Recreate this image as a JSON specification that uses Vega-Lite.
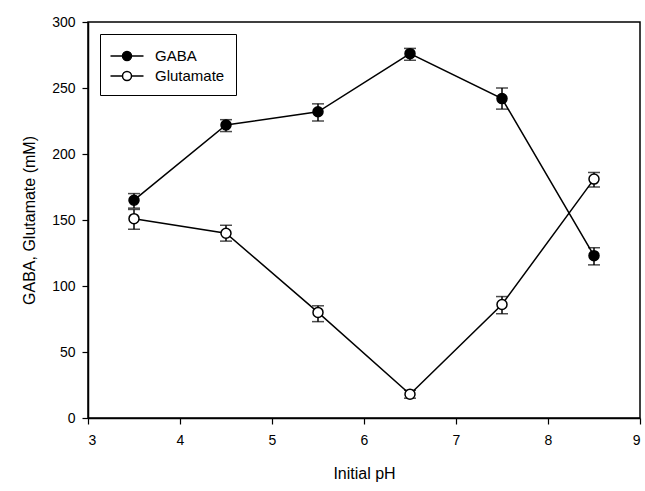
{
  "$schema": "https://vega.github.io/schema/vega-lite/v6.json",
  "autosize": {"type": "none"},
  "padding": {"left": 88, "top": 22, "right": 5, "bottom": 73},
  "width": 552,
  "height": 396,
  "background": "white",
  "config": {
    "font": "Liberation Sans",
    "view": {"stroke": "black", "strokeWidth": 1.5},
    "axis": {
      "domainColor": "black", "domainWidth": 1.5, "tickColor": "black", "tickWidth": 1.2,
      "tickSize": 6, "grid": false, "labelColor": "black", "titleColor": "black",
      "labelFont": "Liberation Sans", "titleFont": "Liberation Sans",
      "labelFontSize": 14, "titleFontSize": 16, "titleFontWeight": "normal"
    }
  },
  "data": {
    "values": [
      {"pH": 3.5, "series": "GABA", "value": 165, "lo": 159, "hi": 170},
      {"pH": 4.5, "series": "GABA", "value": 222, "lo": 217, "hi": 226},
      {"pH": 5.5, "series": "GABA", "value": 232, "lo": 225, "hi": 238},
      {"pH": 6.5, "series": "GABA", "value": 276, "lo": 271, "hi": 280},
      {"pH": 7.5, "series": "GABA", "value": 242, "lo": 234, "hi": 250},
      {"pH": 8.5, "series": "GABA", "value": 123, "lo": 116, "hi": 129},
      {"pH": 3.5, "series": "Glutamate", "value": 151, "lo": 143, "hi": 158},
      {"pH": 4.5, "series": "Glutamate", "value": 140, "lo": 134, "hi": 146},
      {"pH": 5.5, "series": "Glutamate", "value": 80, "lo": 73, "hi": 85},
      {"pH": 6.5, "series": "Glutamate", "value": 18, "lo": 15, "hi": 21},
      {"pH": 7.5, "series": "Glutamate", "value": 86, "lo": 79, "hi": 92},
      {"pH": 8.5, "series": "Glutamate", "value": 181, "lo": 175, "hi": 186}
    ]
  },
  "encoding": {
    "x": {
      "field": "pH", "type": "quantitative",
      "scale": {"domain": [3, 9], "nice": false, "zero": false},
      "axis": {"title": "Initial pH", "values": [3, 4, 5, 6, 7, 8, 9], "labelPadding": 9, "titlePadding": 18}
    }
  },
  "layer": [
    {
      "mark": {"type": "line", "color": "black", "strokeWidth": 1.5},
      "encoding": {
        "y": {
          "field": "value", "type": "quantitative", "title": "GABA, Glutamate (mM)",
          "scale": {"domain": [0, 300], "nice": false},
          "axis": {"values": [0, 50, 100, 150, 200, 250, 300], "labelPadding": 7, "titlePadding": 14}
        },
        "detail": {"field": "series"}
      }
    },
    {
      "mark": {"type": "errorbar", "ticks": true, "size": 12, "thickness": 1.5, "color": "black"},
      "encoding": {
        "y": {"field": "lo", "type": "quantitative", "title": "GABA, Glutamate (mM)"},
        "y2": {"field": "hi"}
      }
    },
    {
      "mark": {"type": "point", "filled": true, "stroke": "black", "strokeWidth": 1.5, "size": 100, "opacity": 1},
      "encoding": {
        "y": {"field": "value", "type": "quantitative", "title": "GABA, Glutamate (mM)"},
        "fill": {
          "field": "series", "type": "nominal",
          "scale": {"domain": ["GABA", "Glutamate"], "range": ["black", "white"]},
          "legend": {
            "title": null, "orient": "none", "legendX": 12, "legendY": 12,
            "strokeColor": "black", "fillColor": "white", "padding": 11,
            "symbolType": "M-1.65,0L-0.45,0M0.45,0L1.65,0M-0.45,0A0.45,0.45,0,1,1,0.45,0A0.45,0.45,0,1,1,-0.45,0Z",
            "symbolSize": 400, "symbolStrokeColor": "black", "symbolStrokeWidth": 1.5,
            "symbolOffset": 5,
            "labelFontSize": 15, "labelColor": "black", "labelOffset": 17, "rowPadding": 1
          }
        }
      }
    }
  ]
}
